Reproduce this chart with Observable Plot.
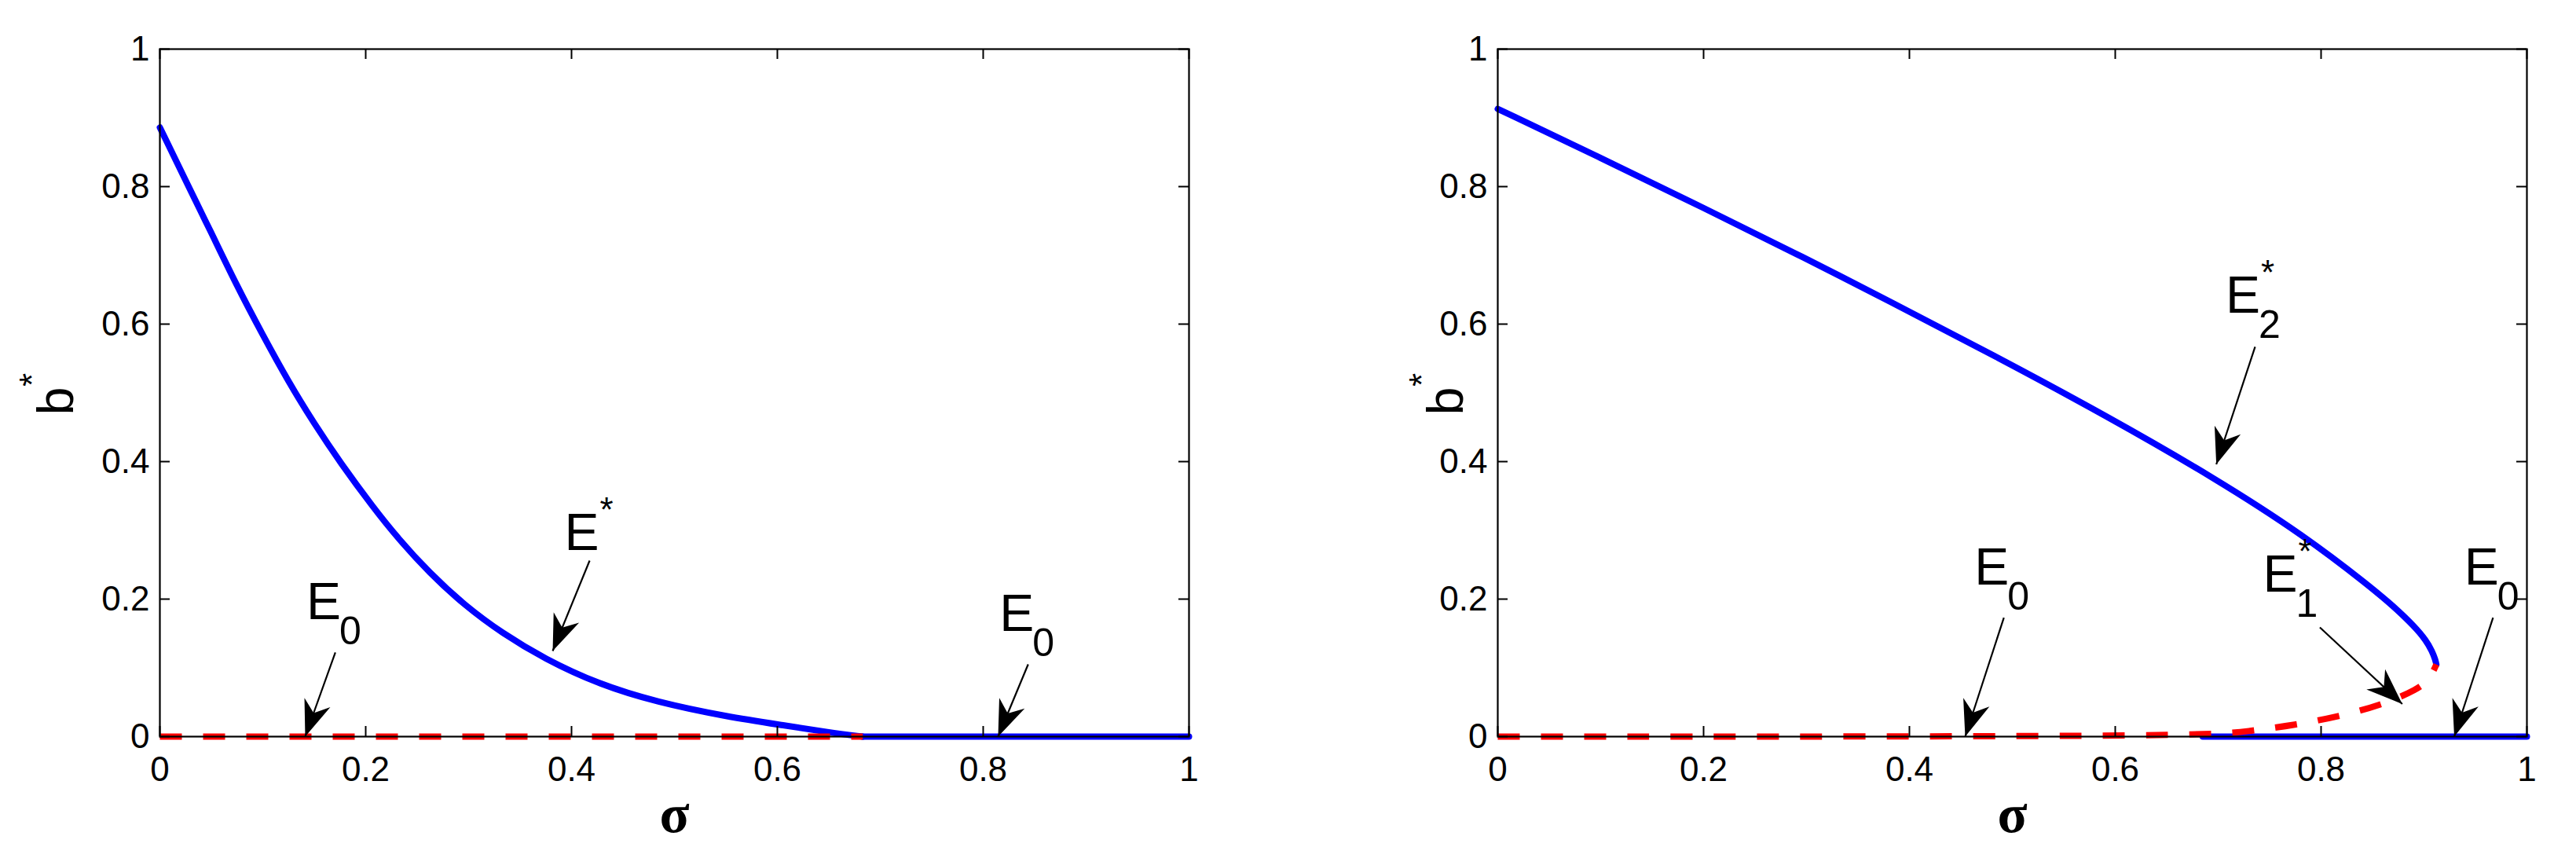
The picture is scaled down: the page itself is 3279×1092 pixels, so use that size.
<!DOCTYPE html>
<html><head><meta charset="utf-8">
<script src="https://cdn.jsdelivr.net/npm/d3@7"></script>
<script src="https://cdn.jsdelivr.net/npm/@observablehq/plot@0.6"></script>
<style>
html,body{margin:0;padding:0;background:#fff;overflow:hidden}
#wrap{display:flex;width:3279px;height:1092px}
#wrap svg{display:block}
</style></head><body><div id="wrap"></div>
<script>
// ---- ticks ----
const xTicks = [0, 0.2, 0.4, 0.6, 0.8, 1];
const xTickLabels = ["0", "0.2", "0.4", "0.6", "0.8", "1"];
const yTicks = [0, 0.2, 0.4, 0.6, 0.8, 1];
const yTickLabels = ["0", "0.2", "0.4", "0.6", "0.8", "1"];
const xLabel = "σ";
const yLabelBase = "b";
const yLabelSup = "*";

// ---- left panel data ----
const leftEStarSigma = [0, 0.023, 0.049, 0.074, 0.100, 0.125, 0.150, 0.176, 0.207, 0.231, 0.262, 0.296, 0.333, 0.374, 0.425, 0.483, 0.551, 0.608, 0.650, 0.683];
const leftEStarB     = [0.886, 0.815, 0.736, 0.658, 0.584, 0.516, 0.455, 0.397, 0.334, 0.289, 0.238, 0.191, 0.150, 0.113, 0.077, 0.050, 0.029, 0.016, 0.006, 0];
const leftE0UnstableSigma = [0, 0.683];
const leftE0UnstableB     = [0, 0];
const leftE0StableSigma = [0.683, 1];
const leftE0StableB     = [0, 0];

// ---- right panel data ----
const rightE2Sigma = [0, 0.1, 0.2, 0.3, 0.377, 0.484, 0.591, 0.698, 0.784, 0.848, 0.870, 0.891, 0.902, 0.908, 0.911, 0.912];
const rightE2B     = [0.913, 0.842, 0.769, 0.695, 0.636, 0.553, 0.467, 0.375, 0.292, 0.218, 0.190, 0.160, 0.140, 0.124, 0.112, 0.105];
const rightUnstableSigma = [0, 0.685, 0.730, 0.775, 0.816, 0.857, 0.895, 0.906, 0.912];
const rightUnstableB     = [0, 0, 0.008, 0.017, 0.029, 0.045, 0.069, 0.085, 0.105];
const rightE0StableSigma = [0.685, 1];
const rightE0StableB     = [0, 0];

// ---- annotations (label anchor, arrow tail, arrow tip) ----
const leftAnnSub  = ["0", "", "0"];
const leftAnnSup  = ["", "*", ""];
const leftAnnX    = [0.1424, 0.3931, 0.8158];
const leftAnnY    = [0.1714, 0.2709, 0.1535];
const leftTailX   = [0.1705, 0.4176, 0.8437];
const leftTailY   = [0.1223, 0.2560, 0.1051];
const leftTipX    = [0.1412, 0.3817, 0.8145];
const leftTipY    = [0, 0.1246, 0];

const rightAnnSub = ["0", "2", "1", "0"];
const rightAnnSup = ["", "*", "*", ""];
const rightAnnX   = [0.4632, 0.7073, 0.7435, 0.9392];
const rightAnnY   = [0.2206, 0.6166, 0.2111, 0.2206];
const rightTailX  = [0.4918, 0.7359, 0.7988, 0.9671];
const rightTailY  = [0.1731, 0.5669, 0.1589, 0.1731];
const rightTipX   = [0.4542, 0.6982, 0.8789, 0.9294];
const rightTipY   = [0, 0.396, 0.0475, 0];

const FONT = "'Liberation Sans', Arial, Helvetica, sans-serif";
const H = 1092, MT = 62, MB = 155;
const PW = 1310, PH = H - MT - MB;

const arrowHead = {
  draw(ctx) {
    ctx.moveTo(0, 0);
    ctx.lineTo(-46, -17.5);
    ctx.lineTo(-32, 0);
    ctx.lineTo(-46, 17.5);
    ctx.closePath();
  }
};

const pts = (xs, ys) => xs.map((x, i) => ({s: x, b: ys[i]}));

function annTable(sub, sup, ax, ay, tx, ty, px, py) {
  return ax.map((_, i) => ({
    sub: sub[i], sup: sup[i], ax: ax[i], ay: ay[i],
    tx: tx[i], ty: ty[i], px: px[i], py: py[i],
    angle: Math.atan2(-(py[i] - ty[i]) * PH, (px[i] - tx[i]) * PW) * 180 / Math.PI
  }));
}

function panel({width, marginLeft, blue, red, ann, ylabDx}) {
  const marginRight = width - marginLeft - PW;
  return Plot.plot({
    width, height: H, marginLeft, marginRight, marginTop: MT, marginBottom: MB,
    x: {domain: [0, 1], label: null},
    y: {domain: [0, 1], label: null},
    style: {fontFamily: FONT, background: "white", color: "black", overflow: "visible"},
    marks: [
      ...blue.map(d => Plot.line(d, {x: "s", y: "b", stroke: "#0000ff", strokeWidth: 8, curve: "basis"})),
      ...red.map(d => Plot.line(d, {x: "s", y: "b", stroke: "#ff0000", strokeWidth: 8, curve: "basis", strokeDasharray: "28,27", strokeLinecap: "butt"})),
      Plot.frame({stroke: "black", strokeWidth: 2.2}),
      Plot.tickX(xTicks, {x: d => d, insetTop: PH - 13, stroke: "black", strokeWidth: 2}),
      Plot.tickX(xTicks, {x: d => d, insetBottom: PH - 13, stroke: "black", strokeWidth: 2}),
      Plot.tickY(yTicks, {y: d => d, insetRight: PW - 13, stroke: "black", strokeWidth: 2}),
      Plot.tickY(yTicks, {y: d => d, insetLeft: PW - 13, stroke: "black", strokeWidth: 2}),
      Plot.axisX({ticks: xTicks, tickSize: 0, tickPadding: 25, fontSize: 44, label: null,
        tickFormat: d => xTickLabels[xTicks.indexOf(d)]}),
      Plot.axisY({ticks: yTicks, tickSize: 0, tickPadding: 13, fontSize: 44, label: null,
        tickFormat: d => yTickLabels[yTicks.indexOf(d)]}),
      Plot.text([xLabel], {frameAnchor: "bottom", text: d => d, dy: 121, lineAnchor: "bottom",
        fontSize: 70, fontWeight: "bold", fontFamily: "'Liberation Serif', 'Times New Roman', serif"}),
      Plot.text([yLabelBase], {frameAnchor: "left", text: d => d, rotate: -90, dx: ylabDx, dy: 10.5,
        lineAnchor: "bottom", textAnchor: "middle", fontSize: 64}),
      Plot.text([yLabelSup], {frameAnchor: "left", text: d => d, rotate: -90, dx: ylabDx - 37, dy: -16.5,
        lineAnchor: "bottom", textAnchor: "middle", fontSize: 44}),
      Plot.link(ann, {x1: "tx", y1: "ty", x2: "px", y2: "py", stroke: "black", strokeWidth: 2.2}),
      Plot.dot(ann, {x: "px", y: "py", symbol: arrowHead, rotate: "angle", fill: "black", stroke: "none", r: 5}),
      Plot.text(ann, {x: "ax", y: "ay", text: d => "E", textAnchor: "start", lineAnchor: "bottom", fontSize: 66}),
      Plot.text(ann.filter(d => d.sub), {x: "ax", y: "ay", text: "sub", dx: 42, dy: 32, textAnchor: "start", lineAnchor: "bottom", fontSize: 50}),
      Plot.text(ann.filter(d => d.sup), {x: "ax", y: "ay", text: "sup", dx: 45, dy: -36, textAnchor: "start", lineAnchor: "bottom", fontSize: 44})
    ]
  });
}

const wrap = document.getElementById("wrap");
wrap.append(panel({
  width: 1640, marginLeft: 203, ylabDx: -111,
  blue: [pts(leftE0StableSigma, leftE0StableB), pts(leftEStarSigma, leftEStarB)],
  red: [pts(leftE0UnstableSigma, leftE0UnstableB)],
  ann: annTable(leftAnnSub, leftAnnSup, leftAnnX, leftAnnY, leftTailX, leftTailY, leftTipX, leftTipY)
}));
wrap.append(panel({
  width: 1639, marginLeft: 266, ylabDx: -45,
  blue: [pts(rightE0StableSigma, rightE0StableB), pts(rightE2Sigma, rightE2B)],
  red: [pts(rightUnstableSigma, rightUnstableB)],
  ann: annTable(rightAnnSub, rightAnnSup, rightAnnX, rightAnnY, rightTailX, rightTailY, rightTipX, rightTipY)
}));
</script></body></html>
